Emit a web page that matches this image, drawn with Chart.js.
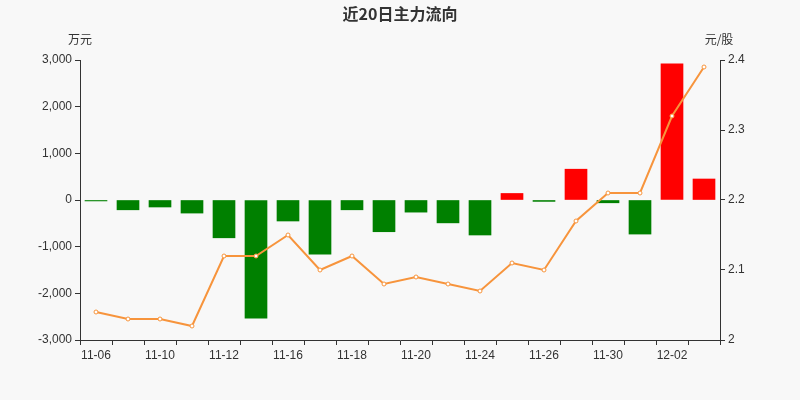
<!DOCTYPE html>
<html>
<head>
<meta charset="utf-8">
<script src="https://cdn.jsdelivr.net/npm/chart.js@4"></script>
<style>
  body { margin: 0; background: #f8f8f8; }
  #wrap { width: 800px; height: 400px; }
</style>
</head>
<body>
<div id="wrap"><canvas id="c"></canvas></div>
<script>
// 近20日主力流向
const dates = ['11-06','11-09','11-10','11-11','11-12','11-13','11-16','11-17','11-18','11-19',
               '11-20','11-23','11-24','11-25','11-26','11-27','11-30','12-01','12-02','12-03'];
const flows = [-20,-210,-150,-280,-810,-2530,-450,-1160,-210,-680,
               -260,-490,-750,140,-30,660,-60,-730,2920,450];
const prices = [2.04,2.03,2.03,2.02,2.12,2.12,2.15,2.10,2.12,2.08,
                2.09,2.08,2.07,2.11,2.10,2.17,2.21,2.21,2.32,2.39];

// заголовок и единицы
const textPlugin = {
    id: 'texts',
    afterDraw(chart) {
        const ctx = chart.ctx;
        ctx.save();
        ctx.fillStyle = '#333';
        ctx.font = 'bold 16px "Noto Sans CJK SC"';
        ctx.textAlign = 'center';
        ctx.textBaseline = 'middle';
        ctx.fillText('近20日主力流向', 400, 14);
        ctx.font = '12px "Noto Sans CJK SC"';
        ctx.fillText('万元', 80, 39);
        ctx.fillText('元/股', 719, 39);
        ctx.restore();
    }
};

const ctx = document.getElementById('c').getContext('2d');
new Chart(ctx, {
    data: {
        labels: dates,
        datasets: [
            {
                type: 'line',
                data: prices,
                yAxisID: 'y1',
                borderColor: 'rgb(247, 148, 60)',
                borderWidth: 2,
                pointRadius: 2,
                pointBackgroundColor: '#fff',
                pointBorderColor: 'rgb(247, 148, 60)',
                pointBorderWidth: 1,
                tension: 0
            },
            {
                type: 'bar',
                data: flows,
                yAxisID: 'y',
                backgroundColor: flows.map(v => v >= 0 ? '#ff0000' : '#008000'),
                barThickness: 22
            }
        ]
    },
    options: {
        responsive: true,
        maintainAspectRatio: false,
        animation: false,
        layout: { padding: { top: 60, left: 0, right: 0, bottom: 0 } },
        plugins: { legend: { display: false }, tooltip: { enabled: false } },
        scales: {
            x: {
                offset: true,
                grid: { display: true, drawOnChartArea: false, color: '#333', tickLength: 5, offset: true },
                border: { color: '#333' },
                ticks: {
                    color: '#333', font: { size: 12 }, maxRotation: 0, autoSkip: false,
                    callback: function(v, i) { return i % 2 === 0 ? dates[i] : ''; }
                },
                afterFit(s) { s.height = 60; }
            },
            y: {
                position: 'left',
                min: -3000, max: 3000,
                ticks: { stepSize: 1000, color: '#333', font: { size: 12 },
                         callback: v => v.toLocaleString('en-US') },
                grid: { drawOnChartArea: false, color: '#333', tickLength: 5 },
                border: { color: '#333' },
                afterFit(s) { s.width = 80; }
            },
            y1: {
                position: 'right',
                min: 2.0, max: 2.4,
                ticks: { stepSize: 0.1, color: '#333', font: { size: 12 },
                         callback: v => Number(v.toFixed(1)).toString() },
                grid: { drawOnChartArea: false, color: '#333', tickLength: 5 },
                border: { color: '#333' },
                afterFit(s) { s.width = 80; }
            }
        }
    },
    plugins: [textPlugin]
});
</script>
</body>
</html>
